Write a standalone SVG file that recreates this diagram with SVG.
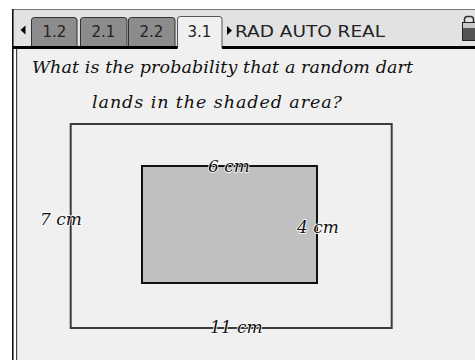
<svg xmlns="http://www.w3.org/2000/svg" width="475" height="360" viewBox="0 0 475 360">
<style>
.tab{fill:#8c8c8c;stroke:#333;stroke-width:1}
.tabt{font-family:"DejaVu Sans",sans-serif;font-size:15px;fill:#222;text-anchor:middle}
.q{font-family:"DejaVu Serif",serif;font-style:italic;font-size:17.5px;fill:#111}
.lbl{font-family:"DejaVu Serif",serif;font-style:italic;font-size:17px;fill:#111;stroke:#fff;stroke-width:1.5;paint-order:stroke;stroke-linejoin:round}
</style>
<rect x="0" y="0" width="475" height="360" fill="#fff"/>
<g id="toolbar">
<rect x="12" y="9" width="463" height="39" fill="#e2e2e2"/>
<line x1="12" y1="9.5" x2="475" y2="9.5" stroke="#777" stroke-width="1"/>
<polygon points="25.5,25.5 20.5,30 25.5,34.5" fill="#000"/>
<path class="tab" d="M31.5,47 V20 Q31.5,17.5 34.5,17.5 H74 Q77,17.5 77,20 V47"/>
<path class="tab" d="M80.5,47 V20 Q80.5,17.5 83.5,17.5 H124 Q127,17.5 127,20 V47"/>
<path class="tab" d="M128.5,47 V20 Q128.5,17.5 131.5,17.5 H172 Q175,17.5 175,20 V47"/>
<path d="M177.5,48 V19 Q177.5,16.5 180.5,16.5 H219 Q222,16.5 222,19 V48" fill="#f0f0f0" stroke="#555" stroke-width="1"/>
<text class="tabt" x="54.5" y="36.5">1.2</text>
<text class="tabt" x="103.5" y="36.5">2.1</text>
<text class="tabt" x="151.5" y="36.5">2.2</text>
<text class="tabt" x="199.5" y="36.5">3.1</text>
<polygon points="227,26 232,30.5 227,35" fill="#000"/>
<text x="235" y="36.5" font-family="DejaVu Sans,sans-serif" font-size="15.5" fill="#222" textLength="150" lengthAdjust="spacingAndGlyphs">RAD AUTO REAL</text>
<g id="lock">
<rect x="464.5" y="16.5" width="9" height="10" rx="3" fill="none" stroke="#333" stroke-width="1.5"/>
<rect x="462.5" y="22.5" width="13" height="18" fill="#555" stroke="#222" stroke-width="1"/>
<rect x="463" y="23" width="12" height="5" fill="#c8c8c8"/>
</g>
</g>
<g id="content">
<rect x="17" y="48" width="458" height="312" fill="#f0f0f0"/>
<line x1="12" y1="47.5" x2="177.5" y2="47.5" stroke="#000" stroke-width="3"/>
<line x1="222" y1="47.5" x2="475" y2="47.5" stroke="#000" stroke-width="3"/>
<line x1="12.8" y1="9" x2="12.8" y2="360" stroke="#111" stroke-width="1.6"/>
<rect x="14" y="49" width="2" height="311" fill="#fff"/>
<line x1="16.6" y1="49" x2="16.6" y2="360" stroke="#444" stroke-width="1.2"/>
</g>
<g id="question">
<text class="q" x="32" y="73" textLength="381" lengthAdjust="spacing">What is the probability that a random dart</text>
<text class="q" x="92" y="108" textLength="250" lengthAdjust="spacing">lands in the shaded area?</text>
</g>
<g id="outer-rect">
<rect x="70.7" y="124" width="321" height="204" fill="none" stroke="#3c3c3c" stroke-width="2"/>
</g>
<g id="inner-rect">
<rect x="142" y="166" width="175" height="117" fill="#c0c0c0" stroke="#111" stroke-width="2"/>
</g>
<g id="labels">
<text class="lbl" x="229" y="172" text-anchor="middle">6 cm</text>
<text class="lbl" x="40" y="225">7 cm</text>
<text class="lbl" x="297" y="233">4 cm</text>
<text class="lbl" x="210" y="333">11 cm</text>
</g>
</svg>
